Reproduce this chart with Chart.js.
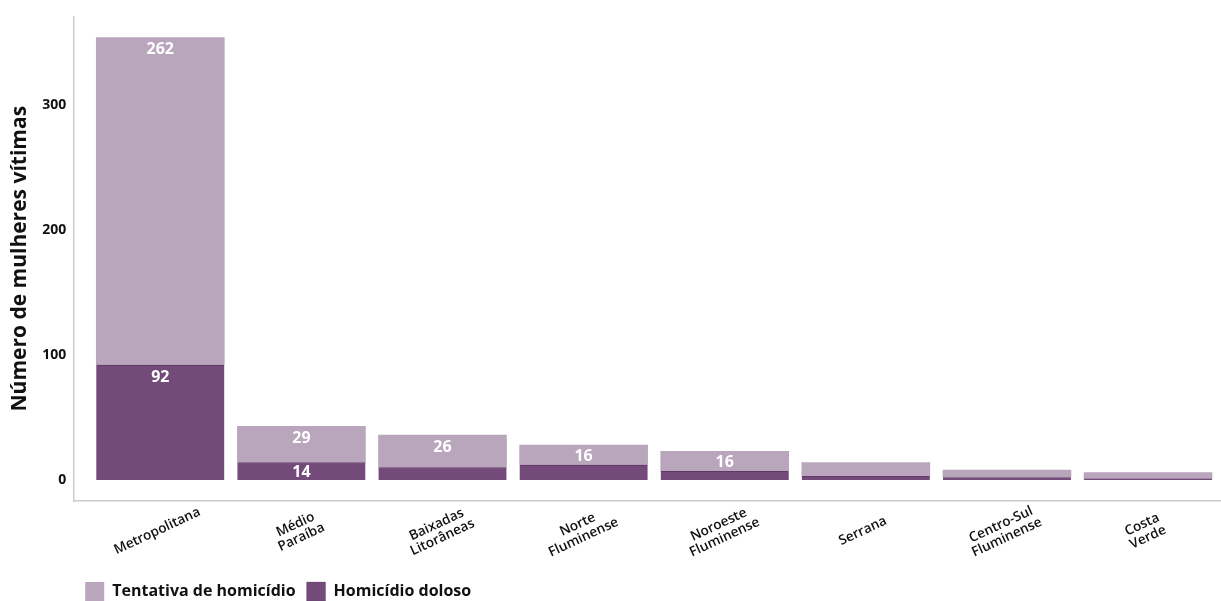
<!DOCTYPE html>
<html>
<head>
<meta charset="utf-8">
<script src="https://cdn.jsdelivr.net/npm/chart.js@4.4.0/dist/chart.umd.min.js"></script>
<style>
  html, body { margin: 0; background: #fff; }
  #wrap { width: 1221px; height: 601px; }
</style>
</head>
<body>
<div id="wrap"><canvas id="chart"></canvas></div>
<script>
// Data
const regions = [['Metropolitana'], ['Médio', 'Paraíba'], ['Baixadas', 'Litorâneas'], ['Norte', 'Fluminense'],
  ['Noroeste', 'Fluminense'], ['Serrana'], ['Centro-Sul', 'Fluminense'], ['Costa', 'Verde']];
const homicidioDoloso = [92, 14, 10, 12, 7, 3, 2, 1];
const tentativaHomicidio = [262, 29, 26, 16, 16, 11, 6, 5];
const yTicks = [0, 100, 200, 300];

const FONT = '"Open Sans", "Noto Sans", sans-serif';
const LIGHT = '#b9a5bc';
const DARK = '#744a7a';

// value labels + centred rotated region names
const labelPlugin = {
  id: 'barLabels',
  afterDatasetsDraw(chart) {
    const ctx = chart.ctx;
    ctx.save();
    ctx.fillStyle = '#fff';
    ctx.font = 'bold 16px ' + FONT;
    ctx.textAlign = 'center';
    ctx.textBaseline = 'middle';
    chart.data.datasets.forEach((ds, di) => {
      chart.getDatasetMeta(di).data.forEach((bar, i) => {
        const v = ds.data[i].y;
        if (v < 14) return;
        ctx.fillText(v, bar.x, Math.min(bar.y + 12, (bar.y + bar.base) / 2 + 1));
      });
    });

    const xs = chart.scales.x;
    ctx.fillStyle = '#111';
    ctx.font = '600 13.5px ' + FONT;
    regions.forEach((lines, i) => {
      ctx.save();
      ctx.translate(xs.getPixelForValue(i) - 3, xs.top + 30);
      ctx.rotate(-25 * Math.PI / 180);
      lines.forEach((t, k) => ctx.fillText(t, 0, (k - (lines.length - 1) / 2) * 14));
      ctx.restore();
    });
    ctx.restore();
  }
};

new Chart(document.getElementById('chart'), {
  type: 'bar',
  data: {
    datasets: [
      {
        label: 'Homicídio doloso',
        data: homicidioDoloso.map((v, i) => ({ x: i, y: v })),
        backgroundColor: DARK,
        borderColor: '#5e3963',
        borderWidth: { top: 1, left: 0, right: 0, bottom: 0 },
        borderSkipped: false,
        barThickness: 128,
        grouped: false
      },
      {
        label: 'Tentativa de homicídio',
        data: tentativaHomicidio.map((v, i) => ({ x: i, y: v })),
        backgroundColor: LIGHT,
        borderWidth: 0,
        barThickness: 128,
        grouped: false
      }
    ]
  },
  options: {
    responsive: true,
    maintainAspectRatio: false,
    animation: false,
    layout: { padding: { top: 14, right: 1, left: 1, bottom: -10 } },
    plugins: {
      tooltip: { enabled: false },
      legend: {
        position: 'bottom',
        align: 'start',
        fullSize: false,
        reverse: true,
        labels: {
          boxWidth: 19,
          boxHeight: 19,
          padding: 11,
          color: '#111',
          font: { family: FONT, size: 16, weight: 'bold' }
        }
      }
    },
    scales: {
      x: {
        type: 'linear',
        offset: false,
        min: -0.61,
        max: 7.51,
        grid: { display: false },
        border: { color: '#cccccc', width: 1.5 },
        ticks: { display: false },
        afterFit: (scale) => { scale.height = 70; }
      },
      y: {
        stacked: true,
        min: -16.8,
        max: 371,
        afterBuildTicks: (scale) => { scale.ticks = yTicks.map(v => ({ value: v })); },
        grid: { display: false, drawTicks: false },
        border: { color: '#cccccc', width: 1.5 },
        ticks: {
          padding: 8,
          color: '#111',
          font: { family: FONT, size: 14, weight: 'bold' }
        },
        title: {
          display: true,
          text: 'Número de mulheres vítimas',
          color: '#111',
          padding: { top: 6, bottom: 2 },
          font: { family: FONT, size: 21, weight: 'bold' }
        }
      }
    }
  },
  plugins: [labelPlugin]
});
</script>
</body>
</html>
